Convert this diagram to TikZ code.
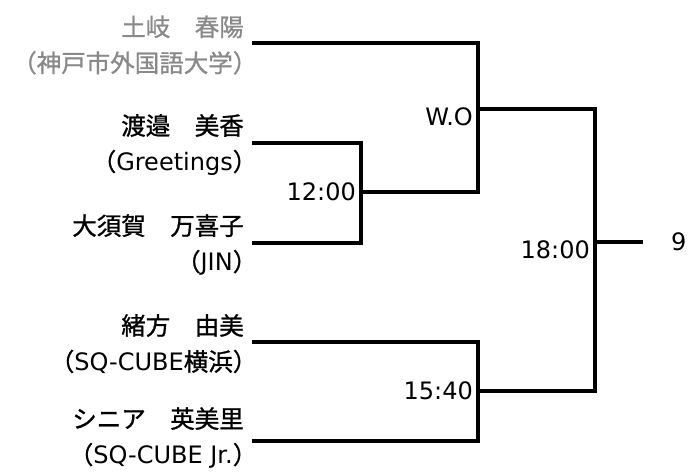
\documentclass[tikz,border=0pt]{standalone}
\usepackage{fontspec}
\setmainfont{Noto Sans CJK JP}[FakeBold=1]
\newfontfamily\latinfont{DejaVu Sans}
\newcommand{\lat}[1]{{\latinfont\fontsize{24}{36}\selectfont #1}}
\newcommand{\rp}{）\kern-0.55em}
\definecolor{schoolgray}{RGB}{137,137,137}

\begin{document}
\begin{tikzpicture}[x=1pt,y=-1pt,
    bline/.style={line width=3.2pt},
    player/.style={anchor=east,align=right,inner sep=0pt,font=\fontsize{24.5}{36}\selectfont},
    score/.style={anchor=east,inner sep=0pt,font=\latinfont\fontsize{24}{28}\selectfont}]
    \useasboundingbox (0,0) rectangle (692,471);
    % entries
    \coordinate (P1) at (252,43);
    \coordinate (P2) at (252,143);
    \coordinate (P3) at (252,243);
    \coordinate (P4) at (252,342);
    \coordinate (P5) at (252,441);
    \node[player,text=schoolgray] (N1) at (244,45) {土岐　春陽\\（神戸市外国語大学\rp};
    \node[player] (N2) at (244,145) {渡邉　美香\\（\lat{Greetings}\rp};
    \node[player] (N3) at (244,245) {大須賀　万喜子\\（\lat{JIN}\rp};
    \node[player] (N4) at (244,344) {緒方　由美\\（\lat{SQ-CUBE}横浜\rp};
    \node[player] (N5) at (244,438) {シニア　英美里\\（\lat{SQ-CUBE Jr.}\rp};
    % bracket
    \coordinate (A) at (361,192);
    \coordinate (B) at (478,109);
    \coordinate (C) at (478,391);
    \coordinate (F) at (595,242);
    \coordinate (W) at (643,242);
    \draw[bline] (P2) -| (A) |- (P3);
    \draw[bline] (P1) -| (B) |- (A);
    \draw[bline] (P4) -| (C) |- (P5);
    \draw[bline] (B) -| (F) |- (C);
    \draw[bline] (F) -- (W);
    % times
    \node[score] (T1) at (356,192) {12:00};
    \node[score] (T2) at (473,117) {W.O};
    \node[score] (T3) at (590,250) {18:00};
    \node[score] (T4) at (473,391) {15:40};
    \node[score,anchor=west] (T5) at (671,242) {9};
\end{tikzpicture}
\end{document}
